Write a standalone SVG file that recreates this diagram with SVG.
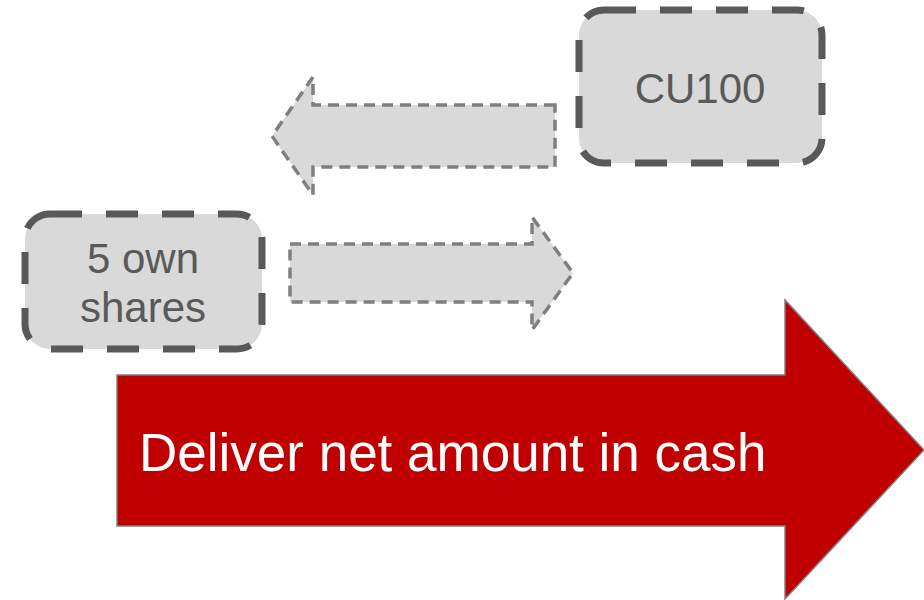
<svg xmlns="http://www.w3.org/2000/svg" width="924" height="600" viewBox="0 0 924 600">
<style>
.box{fill:#d9d9d9;stroke:#595959;stroke-width:7;stroke-dasharray:32 24}
.flow{fill:#d9d9d9;stroke:#7f7f7f;stroke-width:3.5;stroke-dasharray:11 7}
.lbl{font-family:"Liberation Sans",Arial,sans-serif;font-size:42px;fill:#595959;text-anchor:middle}
.big{font-family:"Liberation Sans",Arial,sans-serif;font-size:53px;fill:#ffffff}
</style>
<rect width="924" height="600" fill="#ffffff"/>
<g id="connectors">
<path id="arrow-left" class="flow" d="M555,105 L313,105 L313,77 L272,136 L313,195 L313,167 L555,167 Z"/>
<path id="arrow-right" class="flow" d="M290,244 L532,244 L532,217 L573,273 L532,330 L532,302 L290,302 Z"/>
</g>
<g id="node-cu100">
<rect class="box" x="579" y="10" width="243" height="153" rx="25"/>
<text class="lbl" x="700" y="103">CU100</text>
</g>
<g id="node-shares">
<rect class="box" x="25" y="214" width="237" height="135" rx="25"/>
<text class="lbl" x="143" y="273">5 own</text>
<text class="lbl" x="143" y="322">shares</text>
</g>
<g id="node-cash">
<path d="M117,375 L785,375 L785,300 L924,450 L785,599 L785,526 L117,526 Z" fill="#c00000" stroke="#7f7f7f" stroke-width="1.5"/>
<text class="big" x="139" y="471">Deliver net amount in cash</text>
</g>
</svg>
